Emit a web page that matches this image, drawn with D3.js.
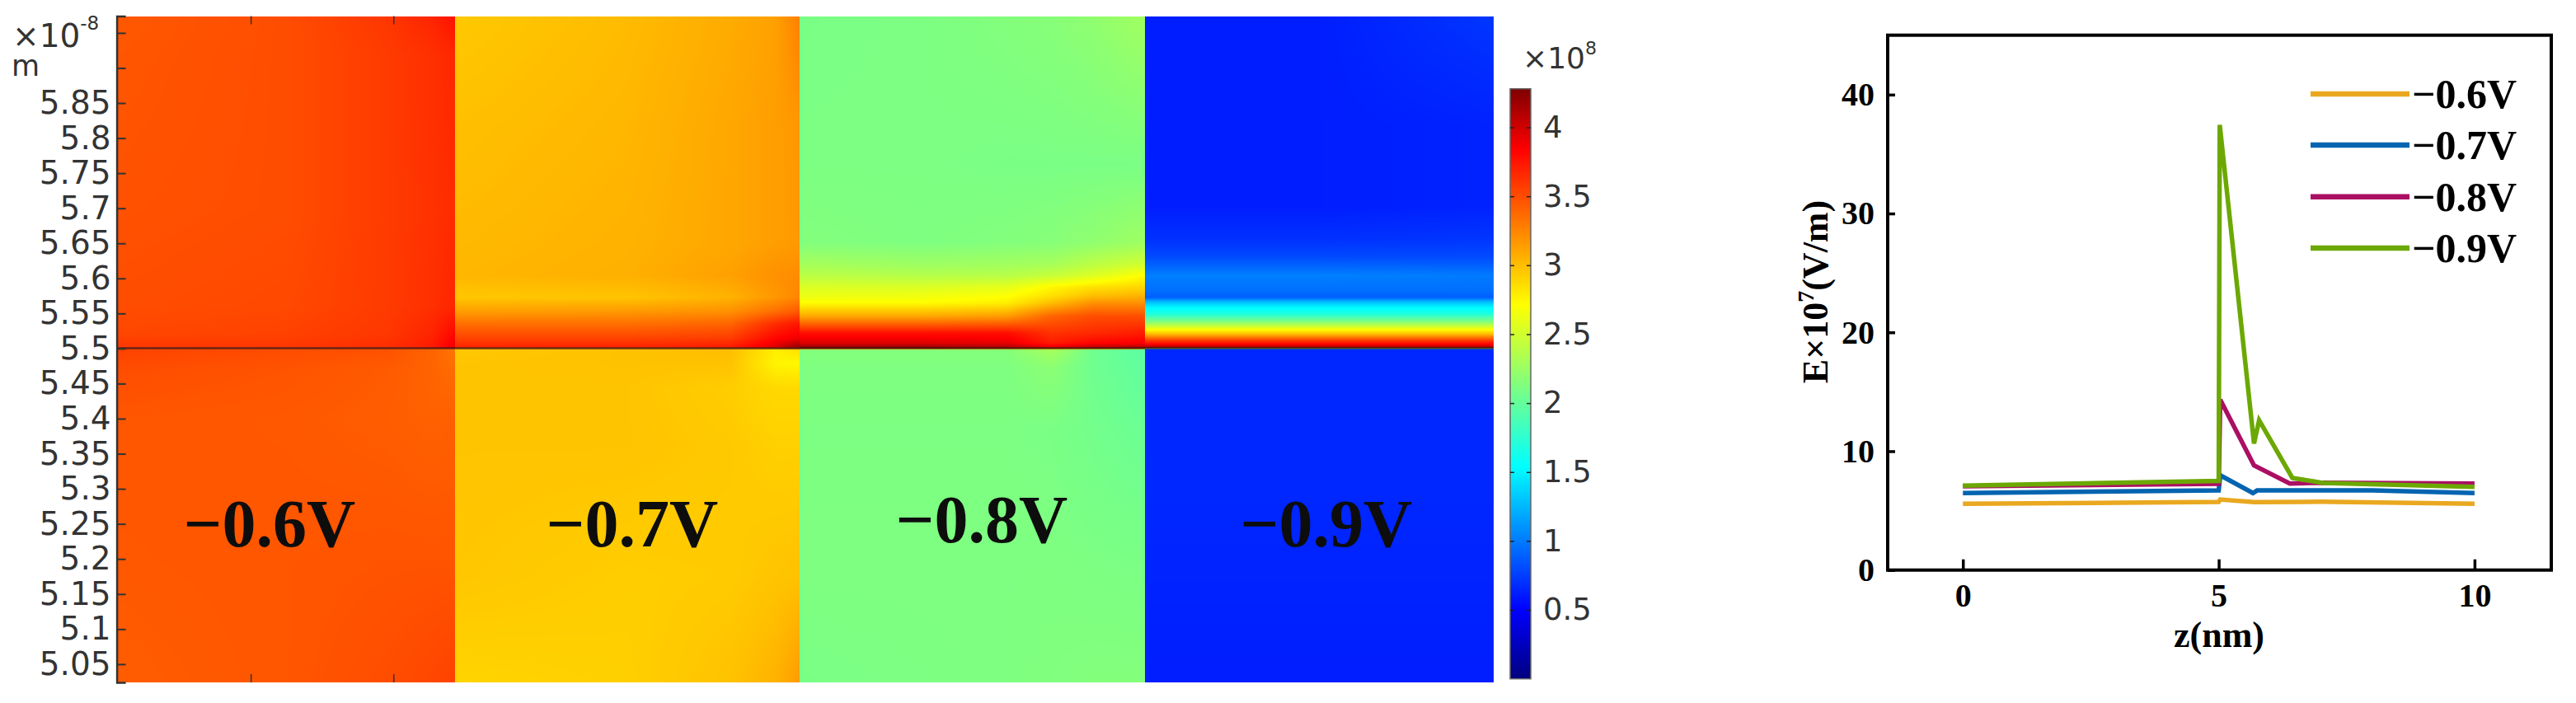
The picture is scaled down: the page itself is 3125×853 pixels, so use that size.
<!DOCTYPE html>
<html>
<head>
<meta charset="utf-8">
<script src="https://cdnjs.cloudflare.com/ajax/libs/d3/7.8.5/d3.min.js"></script>
<style>
html, body { margin: 0; padding: 0; background: #fff; }
svg { display: block; }
</style>
</head>
<body>
<div id="Area"></div>
<script>
// field maps: E in 1e8 units, rows at z (1e-8 m), columns at fraction of panel width
const voltLabels = ["\u22120.6V", "\u22120.7V", "\u22120.8V", "\u22120.9V"];

const cols06 = [0, 0.5, 0.8, 0.93, 1];
const rows06 = [5.974, 5.92, 5.7, 5.56, 5.52, 5.501, 5.499, 5.47, 5.4, 5.2, 5.024];
const field06 = [
  [3.45, 3.50, 3.60, 3.68, 3.77],
  [3.46, 3.50, 3.58, 3.63, 3.67],
  [3.48, 3.50, 3.58, 3.62, 3.65],
  [3.50, 3.52, 3.58, 3.63, 3.68],
  [3.53, 3.55, 3.60, 3.68, 3.82],
  [3.60, 3.60, 3.64, 3.72, 3.90],
  [3.55, 3.50, 3.48, 3.40, 3.32],
  [3.50, 3.47, 3.44, 3.40, 3.36],
  [3.46, 3.45, 3.43, 3.41, 3.42],
  [3.45, 3.46, 3.47, 3.47, 3.47],
  [3.43, 3.46, 3.50, 3.53, 3.55]
];

const cols07 = [0, 0.5, 0.8, 0.93, 1];
const rows07 = [5.974, 5.82, 5.65, 5.604, 5.573, 5.553, 5.535, 5.514, 5.502, 5.498, 5.479, 5.444, 5.36, 5.174, 5.024];
const field07 = [
  [2.95, 3.01, 3.08, 3.13, 3.27],
  [2.99, 3.03, 3.10, 3.14, 3.17],
  [3.02, 3.05, 3.10, 3.14, 3.16],
  [3.03, 3.06, 3.13, 3.20, 3.22],
  [2.96, 2.97, 3.05, 3.17, 3.25],
  [3.14, 3.16, 3.20, 3.35, 3.45],
  [3.35, 3.35, 3.40, 3.65, 3.75],
  [3.55, 3.55, 3.58, 3.82, 3.90],
  [3.68, 3.68, 3.72, 3.95, 4.20],
  [2.95, 2.98, 3.00, 2.78, 2.85],
  [2.97, 2.98, 2.98, 2.76, 2.74],
  [2.97, 2.97, 2.93, 2.88, 2.88],
  [2.97, 2.97, 2.95, 2.92, 2.92],
  [2.96, 2.93, 2.94, 2.97, 2.98],
  [2.90, 2.92, 2.98, 3.05, 3.15]
];

const cols08 = [0, 0.35, 0.6, 0.73, 0.85, 1];
const rows08 = [5.974, 5.761, 5.651, 5.62, 5.604, 5.587, 5.575, 5.565, 5.546, 5.522, 5.508, 5.501, 5.498, 5.473, 5.385, 5.197, 5.024];
const field08 = [
  [2.10, 2.11, 2.14, 2.16, 2.20, 2.28],
  [2.11, 2.11, 2.10, 2.10, 2.10, 2.10],
  [2.14, 2.12, 2.14, 2.16, 2.20, 2.27],
  [2.30, 2.26, 2.28, 2.30, 2.40, 2.50],
  [2.40, 2.37, 2.38, 2.45, 2.55, 2.72],
  [2.55, 2.55, 2.60, 2.75, 2.85, 2.90],
  [2.62, 2.64, 2.70, 2.85, 3.00, 3.05],
  [2.72, 2.72, 2.78, 3.00, 3.20, 3.20],
  [3.10, 3.10, 3.15, 3.40, 3.50, 3.50],
  [3.78, 3.78, 3.78, 3.62, 3.66, 3.72],
  [3.95, 3.95, 3.92, 3.72, 3.82, 3.86],
  [4.22, 4.22, 4.12, 3.95, 4.08, 4.12],
  [2.14, 2.14, 2.14, 2.30, 2.05, 1.95],
  [2.12, 2.12, 2.12, 2.18, 2.05, 1.98],
  [2.11, 2.11, 2.11, 2.10, 2.07, 2.03],
  [2.12, 2.12, 2.12, 2.12, 2.11, 2.10],
  [2.10, 2.11, 2.12, 2.13, 2.14, 2.14]
];

const cols09 = [0, 0.5, 1];
const rows09 = [5.974, 5.819, 5.702, 5.655, 5.631, 5.604, 5.582, 5.573, 5.567, 5.559, 5.549, 5.538, 5.528, 5.52, 5.512, 5.506, 5.501, 5.499, 5.3, 5.024];
const field09 = [
  [0.62, 0.62, 0.72],
  [0.62, 0.62, 0.64],
  [0.62, 0.62, 0.64],
  [0.70, 0.70, 0.72],
  [0.80, 0.80, 0.80],
  [1.02, 1.02, 1.00],
  [0.95, 0.95, 0.95],
  [0.88, 0.88, 0.88],
  [1.25, 1.25, 1.25],
  [1.50, 1.50, 1.50],
  [1.70, 1.70, 1.70],
  [2.15, 2.15, 2.15],
  [2.65, 2.65, 2.65],
  [3.05, 3.05, 3.05],
  [3.55, 3.55, 3.55],
  [3.85, 3.85, 3.85],
  [4.20, 4.20, 4.20],
  [0.66, 0.66, 0.66],
  [0.66, 0.66, 0.66],
  [0.62, 0.62, 0.62]
];

// colour bar
const barStops = [0, 0.5, 1.54, 2.71, 3.84, 4.28];
const barColors = ["#00007f", "#0000ff", "#00ffff", "#ffff00", "#ff0000", "#7f0000"];
const barTicks = [0.5, 1, 1.5, 2, 2.5, 3, 3.5, 4];
const mapTicks = [5.05, 5.1, 5.15, 5.2, 5.25, 5.3, 5.35, 5.4, 5.45, 5.5, 5.55, 5.6, 5.65, 5.7, 5.75, 5.8, 5.85, 5.9, 5.95];
const mapUnlabelled = [5.9, 5.95];
const mapTopTicks = [1, 2];

// line chart E(z)
const lineNames = voltLabels;
const lineColors = ["#e9a820", "#0464b0", "#ab0f64", "#6ca803"];
const z06 = [0, 5, 5.03, 5.69, 7, 10];
const e06 = [5.57, 5.73, 5.94, 5.71, 5.75, 5.57];
const z07 = [0, 5, 5, 5.03, 5.67, 5.75, 8, 10];
const e07 = [6.48, 6.7, 6.7, 7.97, 6.48, 6.7, 6.7, 6.48];
const z08 = [0, 5, 5.03, 5.69, 6.39, 7, 10];
const e08 = [7.05, 7.25, 14.33, 8.8, 7.28, 7.35, 7.28];
const z09 = [0, 5, 5.02, 5.69, 5.79, 6.44, 7.04, 10];
const e09 = [7.1, 7.5, 37.45, 10.65, 12.6, 7.75, 7.33, 7.0];
const lineX = [0, 5, 10];
const lineY = [0, 10, 20, 30, 40];

var width = 3125, height = 853;
var sVg = d3.select("#Area").append("svg").attr("width", width).attr("height", height);

// ---------- left: field map ----------
var mapTop = 19.5, mapBottom = 828;
var panelEdges = [141.6, 552.4, 969.5, 1389, 1812];
var zScale = d3.scaleLinear().domain([5.024, 5.974]).range([mapBottom, mapTop]);
var colorScale = d3.scaleLinear().domain(barStops).range(barColors).clamp(true);

function drawPanel(ctx, x0, x1, cols, rows, field) {
  var colIdx = d3.scaleLinear().domain(cols).range(d3.range(cols.length)).clamp(true);
  var rowIdx = d3.scaleLinear().domain(rows).range(d3.range(rows.length)).clamp(true);
  var xFrac = d3.scaleLinear().domain([x0, x1]).range([0, 1]);
  for (var py = Math.round(mapTop); py < mapBottom; py++) {
    var r = rowIdx(zScale.invert(py + 0.5));
    var r0 = Math.min(Math.floor(r), rows.length - 2), rt = r - r0;
    for (var px = Math.round(x0); px < Math.round(x1); px++) {
      var c = colIdx(xFrac(px + 0.5));
      var c0 = Math.min(Math.floor(c), cols.length - 2), ct = c - c0;
      var top = field[r0][c0] * (1 - ct) + field[r0][c0 + 1] * ct;
      var bot = field[r0 + 1][c0] * (1 - ct) + field[r0 + 1][c0 + 1] * ct;
      ctx.fillStyle = colorScale(top * (1 - rt) + bot * rt);
      ctx.fillRect(px, py, 1, 1);
    }
  }
}

var cv = document.createElement("canvas");
cv.width = width; cv.height = height;
var ctx = cv.getContext("2d");
drawPanel(ctx, panelEdges[0], panelEdges[1], cols06, rows06, field06);
drawPanel(ctx, panelEdges[1], panelEdges[2], cols07, rows07, field07);
drawPanel(ctx, panelEdges[2], panelEdges[3], cols08, rows08, field08);
drawPanel(ctx, panelEdges[3], panelEdges[4], cols09, rows09, field09);
sVg.append("image").attr("x", 0).attr("y", 0).attr("width", width).attr("height", height)
  .attr("href", cv.toDataURL("image/png"));

// interface line
sVg.append("line")
  .attr("x1", panelEdges[0]).attr("x2", panelEdges[4])
  .attr("y1", zScale(5.5) - 0.5).attr("y2", zScale(5.5) - 0.5)
  .attr("stroke", "#1a1a1a").attr("stroke-opacity", 0.65).attr("stroke-width", 2.5);

// map axes
var sans = "'DejaVu Sans', sans-serif";
var serif = "'Liberation Serif', 'Times New Roman', serif";
var mapAxis = sVg.append("g")
  .attr("transform", "translate(" + panelEdges[0] + ",0)")
  .call(d3.axisLeft(zScale).tickValues(mapTicks).tickSize(-11).tickPadding(7)
    .tickFormat(function(d) { return mapUnlabelled.indexOf(d) >= 0 ? "" : d3.format("~g")(d); }));
mapAxis.selectAll("text").attr("font-family", sans).attr("font-size", 39).attr("fill", "#333");
mapAxis.selectAll("line").attr("stroke", "#333").attr("stroke-width", 2);
mapAxis.select(".domain").attr("stroke", "#333").attr("stroke-width", 2.5);

var panelX = d3.scaleLinear().domain([0.061, 2.434]).range([panelEdges[0], panelEdges[1]]);
var topAxis = sVg.append("g").attr("transform", "translate(0," + mapTop + ")")
  .call(d3.axisTop(panelX).tickValues(mapTopTicks).tickSize(-10).tickFormat(""));
var botAxis = sVg.append("g").attr("transform", "translate(0," + mapBottom + ")")
  .call(d3.axisBottom(panelX).tickValues(mapTopTicks).tickSize(-10).tickFormat(""));
[topAxis, botAxis].forEach(function(a) {
  a.select(".domain").remove();
  a.selectAll("line").attr("stroke", "#333").attr("stroke-width", 1.5);
});

// axis multiplier
var mult = sVg.append("text").attr("x", 15).attr("y", 57).attr("font-family", sans)
  .attr("font-size", 39).attr("fill", "#333");
mult.append("tspan").text("\u00d710");
mult.append("tspan").attr("dy", -21).attr("font-size", 23).text("-8");
sVg.append("text").attr("x", 14).attr("y", 92).attr("font-family", sans)
  .attr("font-size", 35).attr("fill", "#333").text("m");

// panel labels
var labelX = [327, 767, 1191, 1609], labelY = [663, 663, 658, 663];
sVg.selectAll(".volt").data(voltLabels).enter().append("text")
  .attr("class", "volt")
  .attr("x", function(d, i) { return labelX[i]; })
  .attr("y", function(d, i) { return labelY[i]; })
  .attr("text-anchor", "middle")
  .attr("font-family", serif).attr("font-weight", "bold").attr("font-size", 82)
  .attr("fill", "#0d0d0d")
  .text(function(d) { return d; });

// colour bar
var barX0 = 1832, barX1 = 1857;
var barScale = d3.scaleLinear().domain([0, 4.28]).range([823.7, 107.7]);
var grad = sVg.append("defs").append("linearGradient").attr("id", "jet")
  .attr("x1", 0).attr("x2", 0).attr("y1", 1).attr("y2", 0);
grad.selectAll("stop").data(barStops).enter().append("stop")
  .attr("offset", function(d) { return d / 4.28; })
  .attr("stop-color", function(d, i) { return barColors[i]; });
sVg.append("rect").attr("x", barX0).attr("y", barScale(4.28))
  .attr("width", barX1 - barX0).attr("height", barScale(0) - barScale(4.28))
  .attr("fill", "url(#jet)").attr("stroke", "#666").attr("stroke-width", 1.5);
var barRight = sVg.append("g").attr("transform", "translate(" + barX1 + ",0)")
  .call(d3.axisRight(barScale).tickValues(barTicks).tickSize(-5).tickPadding(15).tickFormat(d3.format("~g")));
barRight.selectAll("text").attr("font-family", sans).attr("font-size", 37).attr("fill", "#333");
var barLeft = sVg.append("g").attr("transform", "translate(" + barX0 + ",0)")
  .call(d3.axisLeft(barScale).tickValues(barTicks).tickSize(-5).tickFormat(""));
[barRight, barLeft].forEach(function(a) {
  a.select(".domain").remove();
  a.selectAll("line").attr("stroke", "#222").attr("stroke-width", 1.5);
});
var barMult = sVg.append("text").attr("x", 1847).attr("y", 83).attr("font-family", sans)
  .attr("font-size", 36).attr("fill", "#333");
barMult.append("tspan").text("\u00d710");
barMult.append("tspan").attr("dy", -17).attr("font-size", 22).text("8");

// ---------- right: E(z) lines ----------
var plotL = 2290, plotR = 3095, plotT = 42.7, plotB = 691.7;
var x = d3.scaleLinear().domain([-1.47, 11.5]).range([plotL, plotR]);
var y = d3.scaleLinear().domain([0, 45]).range([plotB, plotT]);

sVg.append("rect").attr("x", plotL).attr("y", plotT)
  .attr("width", plotR - plotL).attr("height", plotB - plotT)
  .attr("fill", "none").attr("stroke", "#000").attr("stroke-width", 4);

var xAxis = sVg.append("g").attr("transform", "translate(0," + plotB + ")")
  .call(d3.axisBottom(x).tickValues(lineX).tickSize(-13).tickPadding(16).tickFormat(d3.format("d")));
var yAxis = sVg.append("g").attr("transform", "translate(" + plotL + ",0)")
  .call(d3.axisLeft(y).tickValues(lineY).tickSize(-9).tickPadding(16).tickFormat(d3.format("d")));
[xAxis, yAxis].forEach(function(a) {
  a.select(".domain").remove();
  a.selectAll("line").attr("stroke", "#000").attr("stroke-width", 3.5);
  a.selectAll("text").attr("font-family", serif).attr("font-weight", "bold")
    .attr("font-size", 40).attr("fill", "#000");
});

var lineGen = d3.line().x(function(d) { return x(d[0]); }).y(function(d) { return y(d[1]); });
var lineData = [d3.zip(z06, e06), d3.zip(z07, e07), d3.zip(z08, e08), d3.zip(z09, e09)];
sVg.selectAll(".line").data(lineData).enter().append("path")
  .attr("class", "line")
  .attr("d", lineGen)
  .attr("fill", "none")
  .attr("stroke", function(d, i) { return lineColors[i]; })
  .attr("stroke-width", 5.5)
  .attr("stroke-linejoin", "miter");

// legend
var legendY = [114, 176, 238.7, 301];
var legend = sVg.selectAll(".legend").data(lineNames).enter().append("g")
  .attr("class", "legend")
  .attr("transform", function(d, i) { return "translate(2803," + legendY[i] + ")"; });
legend.append("line").attr("x1", 0).attr("x2", 120)
  .attr("stroke", function(d, i) { return lineColors[i]; }).attr("stroke-width", 6.5);
legend.append("text").attr("x", 123).attr("y", 17)
  .attr("font-family", serif).attr("font-weight", "bold").attr("font-size", 50)
  .attr("fill", "#000").text(function(d) { return d; });

// axis titles
sVg.append("text").attr("x", 2692).attr("y", 785).attr("text-anchor", "middle")
  .attr("font-family", serif).attr("font-weight", "bold").attr("font-size", 44)
  .text("z(nm)");
var yTitle = sVg.append("text").attr("transform", "translate(2217,354) rotate(-90)")
  .attr("text-anchor", "middle").attr("font-family", serif).attr("font-weight", "bold").attr("font-size", 44);
yTitle.append("tspan").text("E\u00d710");
yTitle.append("tspan").attr("dy", -17).attr("font-size", 28).text("7");
yTitle.append("tspan").attr("dy", 17).text("(V/m)");
</script>
</body>
</html>
